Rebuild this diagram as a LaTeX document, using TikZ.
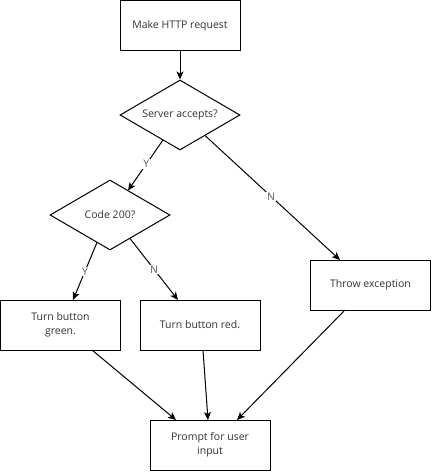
\documentclass[tikz,border=0pt]{standalone}
\usepackage{fontspec}
\setmainfont{Open Sans}
\usetikzlibrary{shapes.geometric,arrows.meta,calc}
\definecolor{txt}{HTML}{333333}
\tikzset{
  box/.style={draw=black, line width=1pt, fill=white, minimum width=120pt, minimum height=50pt,
    inner sep=0pt, align=center, text=txt, font=\fontsize{10.5}{14}\selectfont},
  dia/.style={draw=black, line width=1pt, fill=white, shape=diamond, aspect=1.714, inner sep=0pt,
    minimum width=120pt, minimum height=70pt, text=txt, font=\fontsize{10.5}{14}\selectfont},
  conn/.style={line width=1pt, -{Stealth[length=8pt,width=7pt,inset=2pt]}},
  elabel/.style={fill=white, inner sep=1pt, text=txt!80, font=\fontsize{10.5}{12}\selectfont}
}
\begin{document}
\begin{tikzpicture}[x=1pt,y=-1pt]
\useasboundingbox (0,0) rectangle (432,472);
\node[box] (http) at (180,25.5) {Make HTTP request};
\node[dia] (srv) at (180,115) {\makebox[0pt]{Server accepts?}};
\node[dia] (code) at (110,215) {\makebox[0pt]{Code 200?}};
\node[box] (thr) at (370.5,285) {Throw exception};
\node[box] (green) at (60.5,325) {Turn button\\green.};
\node[box] (red) at (200,325) {Turn button red.};
\node[box] (prompt) at (210,445) {Prompt for user\\input};

\draw[conn] (http.south) -- (srv.north);
\draw[conn] ([shift={(-17,25)}]srv.center) -- node[elabel, pos=0.48] {Y} ([shift={(18,-24.5)}]code.center);
\draw[conn] ([shift={(25,20.5)}]srv.center) -- node[elabel, pos=0.49] {N} ([shift={(-30.5,-25)}]thr.center);
\draw[conn] ([shift={(-13,27.5)}]code.center) -- node[elabel, pos=0.5] {Y} ([shift={(12.5,-25)}]green.center);
\draw[conn] ([shift={(20,23.5)}]code.center) -- node[elabel, pos=0.5] {N} ([shift={(-22,-25)}]red.center);
\draw[conn] ([shift={(31.5,25)}]green.center) -- ([shift={(-34,-25)}]prompt.center);
\draw[conn] ([shift={(3,25)}]red.center) -- ([shift={(-2,-25)}]prompt.center);
\draw[conn] ([shift={(-25.5,25)}]thr.center) -- ([shift={(27,-25)}]prompt.center);
\end{tikzpicture}
\end{document}
